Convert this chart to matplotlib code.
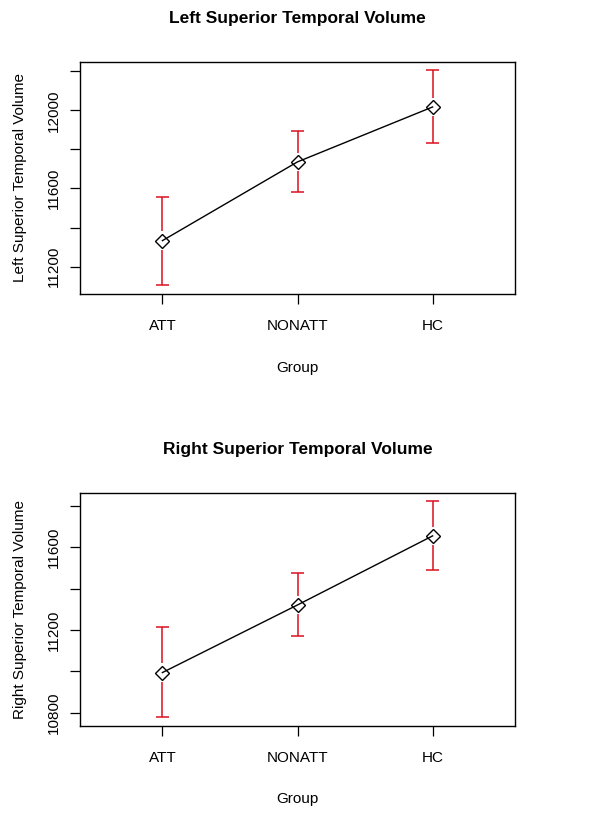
import numpy as np
import matplotlib
matplotlib.use("Agg")
import matplotlib.pyplot as plt

plt.rcParams["font.family"] = ["Liberation Sans", "DejaVu Sans"]

groups = ["ATT", "NONATT", "HC"]

# left superior temporal volume: mean, lower, upper
left_mean = [11333, 11736, 12017]
left_lo = [11106, 11581, 11833]
left_hi = [11557, 11894, 12208]

# right superior temporal volume
right_mean = [10994, 11321, 11655]
right_lo = [10781, 11171, 11490]
right_hi = [11215, 11476, 11824]

left_ticks = [11200, 11400, 11600, 11800, 12000, 12200]
right_ticks = [10800, 11000, 11200, 11400, 11600, 11800]

W, H = 616, 818
fig = plt.figure(figsize=(W / 100, H / 100), dpi=100)

def panel(rect, mean, lo, hi, ticks, ylim, title, ylabel):
    ax = fig.add_axes(rect)
    x = np.arange(1, len(groups) + 1)
    gap = 0.04 * (ylim[1] - ylim[0])
    m = np.array(mean); l = np.array(lo); h = np.array(hi)
    red = "#dd1020"
    ax.vlines(x, m + gap, h, color=red, lw=1.1)
    ax.vlines(x, l, m - gap, color=red, lw=1.1)
    ax.hlines(h, x - 0.05, x + 0.05, color=red, lw=1.1)
    ax.hlines(l, x - 0.05, x + 0.05, color=red, lw=1.1)
    ax.plot(x, m, "-", color="black", lw=1.0, marker="D", ms=7,
            mfc="none", mec="black", mew=1.0)
    ax.set_xlim(0.39, 3.61)
    ax.set_ylim(*ylim)
    ax.set_xticks(x)
    ax.set_xticklabels(groups, fontsize=11)
    ax.set_yticks(ticks)
    ax.set_yticklabels([str(t) if i % 2 == 0 else "" for i, t in enumerate(ticks)],
                       rotation=90, va="center", fontsize=11)
    ax.tick_params(direction="out", length=7, width=0.9)
    ax.tick_params(axis="x", pad=11)
    ax.tick_params(axis="y", pad=7)
    for s in ax.spines.values():
        s.set_linewidth(1.0)
    ax.set_title(title, fontsize=12.5, fontweight="bold", pad=28)
    ax.set_xlabel("Group", fontsize=11, labelpad=20)
    ax.set_ylabel(ylabel, fontsize=11, labelpad=14)
    return ax

panel([80 / W, 1 - 294 / H, 435 / W, 232 / H], left_mean, left_lo, left_hi,
      left_ticks, (11060, 12247), "Left Superior Temporal Volume",
      "Left Superior Temporal Volume")
panel([80 / W, 1 - 725.7 / H, 435 / W, 232.4 / H], right_mean, right_lo, right_hi,
      right_ticks, (10737, 11861), "Right Superior Temporal Volume",
      "Right Superior Temporal Volume")

fig.savefig("out.png", dpi=100)
